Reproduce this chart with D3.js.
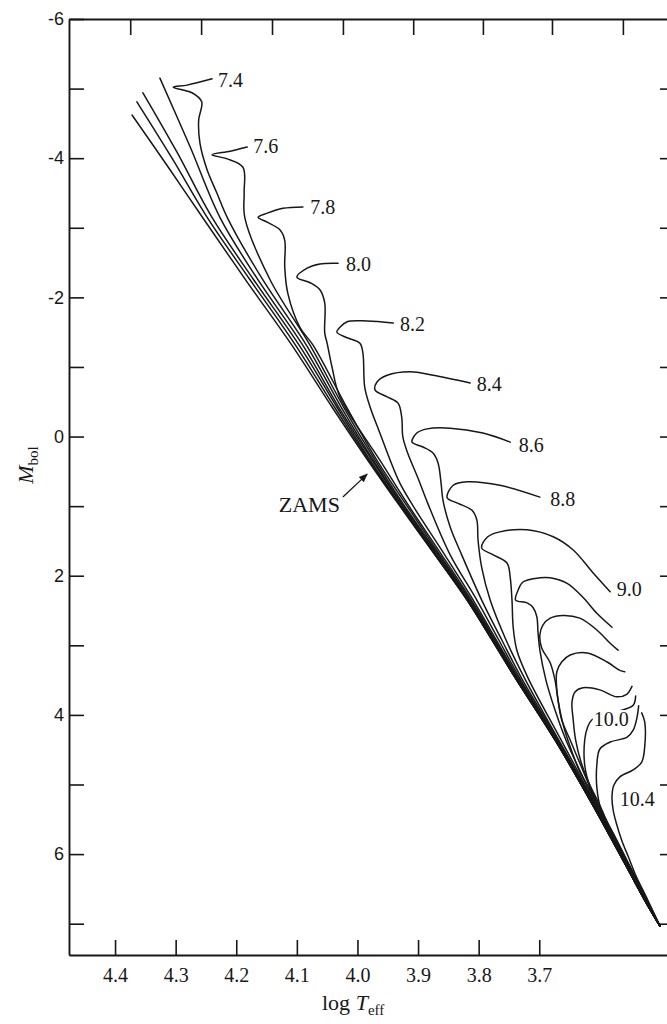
<!DOCTYPE html>
<html>
<head>
<meta charset="utf-8">
<script src="https://cdn.jsdelivr.net/npm/d3@7"></script>
<style>
  html, body { margin: 0; padding: 0; background: #fff; }
  svg { display: block; }
</style>
</head>
<body>
<svg id="chart" width="667" height="1024"></svg>
<script>
// Isochrones in the theoretical HR diagram: [log Teff, M_bol] pairs.
const zams = [[4.372,-4.62],[4.309,-3.83],[4.255,-3.14],[4.182,-2.22],[4.108,-1.31],[4.041,-0.41],[3.983,0.34],[3.930,1.00],[3.872,1.70],[3.819,2.35],[3.778,2.92],[3.740,3.46],[3.674,4.36],[3.610,5.32],[3.559,6.13],[3.526,6.66],[3.501,7.03]];

// Younger tracks whose turn-off lies above the plotted range
const youngTrack1 = [[4.364,-4.81],[4.306,-4.00],[4.248,-3.15],[4.177,-2.25],[4.102,-1.31],[4.037,-0.41],[3.981,0.34],[3.929,1.00],[3.872,1.70],[3.819,2.35],[3.778,2.92],[3.740,3.46],[3.674,4.36],[3.610,5.32],[3.559,6.13],[3.526,6.66],[3.501,7.03]];
const youngTrack2 = [[4.354,-4.94],[4.298,-4.09],[4.240,-3.15],[4.171,-2.25],[4.096,-1.31],[4.033,-0.41],[3.979,0.34],[3.928,1.00],[3.871,1.70],[3.819,2.35],[3.778,2.92],[3.740,3.46],[3.674,4.36],[3.610,5.32],[3.559,6.13],[3.526,6.66],[3.501,7.03]];
const youngTrack3 = [[4.326,-5.15],[4.276,-4.16],[4.227,-3.15],[4.164,-2.25],[4.090,-1.31],[4.030,-0.41],[3.976,0.34],[3.926,1.00],[3.870,1.70],[3.818,2.35],[3.777,2.92],[3.740,3.46],[3.674,4.36],[3.610,5.32],[3.559,6.13],[3.526,6.66],[3.501,7.03]];

// Labelled isochrones, listed from the red end through the hook and down the main sequence
const iso74 = [[4.240,-5.14],[4.281,-5.05],[4.304,-5.02],[4.273,-4.94],[4.257,-4.81],[4.262,-4.55],[4.260,-4.22],[4.248,-3.83],[4.232,-3.50],[4.215,-3.15],[4.156,-2.25],[4.084,-1.31],[4.026,-0.41],[3.974,0.34],[3.924,1.00],[3.868,1.70],[3.817,2.35],[3.776,2.92],[3.739,3.46],[3.673,4.36],[3.610,5.32],[3.559,6.13],[3.526,6.66],[3.501,7.03]];
const iso76 = [[4.182,-4.16],[4.210,-4.10],[4.240,-4.05],[4.215,-3.99],[4.189,-3.87],[4.187,-3.50],[4.186,-3.15],[4.144,-2.25],[4.078,-1.31],[4.022,-0.41],[3.971,0.34],[3.922,1.00],[3.866,1.70],[3.816,2.35],[3.776,2.92],[3.739,3.46],[3.673,4.36],[3.609,5.32],[3.559,6.13],[3.526,6.66],[3.501,7.03]];
const iso78 = [[4.090,-3.30],[4.123,-3.28],[4.149,-3.21],[4.164,-3.15],[4.149,-3.08],[4.128,-2.97],[4.120,-2.82],[4.120,-2.44],[4.115,-2.06],[4.095,-1.57],[4.073,-1.31],[4.017,-0.41],[3.968,0.34],[3.918,1.00],[3.864,1.70],[3.814,2.35],[3.775,2.92],[3.738,3.46],[3.673,4.36],[3.609,5.32],[3.558,6.13],[3.526,6.66],[3.501,7.03]];
const iso80 = [[4.032,-2.49],[4.062,-2.48],[4.083,-2.42],[4.100,-2.29],[4.078,-2.21],[4.062,-2.11],[4.054,-1.92],[4.054,-1.49],[4.050,-1.34],[4.042,-1.00],[4.029,-0.57],[3.963,0.34],[3.915,1.00],[3.861,1.70],[3.812,2.35],[3.773,2.92],[3.737,3.46],[3.672,4.36],[3.609,5.32],[3.558,6.13],[3.526,6.66],[3.501,7.03]];
const iso82 = [[3.941,-1.63],[3.984,-1.66],[4.017,-1.65],[4.029,-1.57],[4.034,-1.50],[4.017,-1.42],[3.996,-1.34],[3.991,-1.20],[3.988,-0.71],[3.979,-0.42],[3.963,-0.05],[3.946,0.34],[3.930,0.67],[3.908,1.00],[3.856,1.70],[3.809,2.35],[3.771,2.92],[3.735,3.46],[3.672,4.36],[3.608,5.32],[3.558,6.13],[3.525,6.66],[3.501,7.03]];
const iso84 = [[3.814,-0.77],[3.875,-0.88],[3.913,-0.93],[3.951,-0.88],[3.968,-0.78],[3.971,-0.67],[3.951,-0.57],[3.933,-0.48],[3.927,-0.28],[3.925,0.01],[3.917,0.24],[3.900,0.60],[3.884,0.96],[3.847,1.70],[3.803,2.35],[3.767,2.92],[3.733,3.46],[3.671,4.36],[3.608,5.32],[3.558,6.13],[3.525,6.66],[3.501,7.03]];
const iso86 = [[3.748,0.08],[3.793,-0.05],[3.847,-0.12],[3.885,-0.11],[3.902,-0.05],[3.910,0.08],[3.892,0.15],[3.875,0.24],[3.867,0.38],[3.862,0.67],[3.859,0.91],[3.847,1.30],[3.828,1.70],[3.795,2.35],[3.762,2.92],[3.730,3.46],[3.669,4.36],[3.607,5.32],[3.557,6.13],[3.525,6.66],[3.501,7.03]];
const iso88 = [[3.699,0.87],[3.765,0.70],[3.819,0.65],[3.842,0.70],[3.852,0.88],[3.834,0.96],[3.811,1.06],[3.803,1.20],[3.801,1.49],[3.795,1.88],[3.781,2.35],[3.755,2.92],[3.725,3.46],[3.668,4.36],[3.606,5.32],[3.557,6.13],[3.525,6.66],[3.501,7.03]];
const iso90 = [[3.583,2.23],[3.611,1.96],[3.644,1.63],[3.677,1.44],[3.720,1.34],[3.765,1.37],[3.785,1.44],[3.795,1.60],[3.776,1.70],[3.753,1.82],[3.748,2.02],[3.745,2.35],[3.743,2.74],[3.737,3.07],[3.719,3.46],[3.664,4.36],[3.605,5.32],[3.556,6.13],[3.524,6.66],[3.501,7.03]];
const iso92 = [[3.580,2.74],[3.605,2.54],[3.628,2.31],[3.654,2.11],[3.682,2.03],[3.699,2.03],[3.727,2.09],[3.735,2.21],[3.739,2.35],[3.720,2.39],[3.710,2.46],[3.704,2.59],[3.702,2.82],[3.699,3.07],[3.689,3.50],[3.674,3.93],[3.656,4.36],[3.604,5.32],[3.556,6.13],[3.524,6.66],[3.501,7.03]];
const iso94 = [[3.570,3.07],[3.583,2.97],[3.605,2.78],[3.633,2.61],[3.661,2.57],[3.682,2.61],[3.694,2.71],[3.699,2.85],[3.696,3.04],[3.682,3.25],[3.674,3.50],[3.669,3.79],[3.663,4.07],[3.649,4.36],[3.602,5.32],[3.555,6.13],[3.524,6.66],[3.501,7.03]];
const iso96 = [[3.559,3.38],[3.567,3.36],[3.588,3.24],[3.621,3.11],[3.649,3.14],[3.663,3.24],[3.671,3.38],[3.671,3.64],[3.666,3.93],[3.658,4.22],[3.646,4.53],[3.633,4.82],[3.616,5.08],[3.601,5.32],[3.554,6.13],[3.524,6.66],[3.501,7.03]];
const iso98 = [[3.547,3.59],[3.550,3.64],[3.555,3.70],[3.572,3.74],[3.600,3.64],[3.628,3.61],[3.641,3.67],[3.646,3.82],[3.644,4.07],[3.640,4.36],[3.631,4.68],[3.618,4.98],[3.600,5.30],[3.580,5.70],[3.554,6.13],[3.523,6.66],[3.501,7.03]];
const iso100 = [[3.541,3.73],[3.545,3.86],[3.575,3.96],[3.600,4.02],[3.613,4.07],[3.620,4.17],[3.625,4.36],[3.625,4.72],[3.616,5.04],[3.600,5.34],[3.578,5.70],[3.553,6.13],[3.523,6.66],[3.501,7.03]];
const iso102 = [[3.536,3.87],[3.539,4.05],[3.545,4.22],[3.555,4.32],[3.583,4.39],[3.600,4.49],[3.605,4.72],[3.605,5.04],[3.598,5.37],[3.580,5.73],[3.564,5.98],[3.549,6.20],[3.522,6.66],[3.501,7.03]];
const iso104 = [[3.531,3.97],[3.526,4.10],[3.526,4.46],[3.531,4.68],[3.545,4.79],[3.567,4.89],[3.577,5.01],[3.580,5.18],[3.578,5.37],[3.573,5.55],[3.564,5.80],[3.552,6.06],[3.541,6.30],[3.521,6.66],[3.501,7.03]];

// Age labels (log t) and where each one sits
const ageLabels = ["7.4","7.6","7.8","8.0","8.2","8.4","8.6","8.8","9.0","10.0","10.4"];
const ageLabelLogT = [4.230,4.172,4.078,4.019,3.930,3.803,3.734,3.682,3.572,3.610,3.567];
const ageLabelMbol = [-5.02,-4.07,-3.20,-2.38,-1.52,-0.65,0.22,1.00,2.29,4.16,5.31];

// ZAMS annotation: label anchor and arrow from/to
const zamsLabel = [4.029, 1.08];
const zamsArrow = [[4.024, 0.87], [3.984, 0.54]];

// Axis ticks
const bottomTicks = [4.4, 4.3, 4.2, 4.1, 4.0, 3.9, 3.8, 3.7];
const topTicks = [4.375, 4.258, 4.141, 4.024, 3.908, 3.793, 3.679, 3.562];
const leftTicks = [-6, -5, -4, -3, -2, -1, 0, 1, 2, 3, 4, 5, 6, 7];
const rightTicks = [-5, -4, -3, -2, -1, 0, 1, 2, 3, 4, 5, 6, 7];

const curves = [zams, youngTrack1, youngTrack2, youngTrack3,
  iso74, iso76, iso78, iso80, iso82, iso84, iso86, iso88, iso90,
  iso92, iso94, iso96, iso98, iso100, iso102, iso104];

const ink = "#171717";
const svg = d3.select("#chart");

const x = d3.scaleLinear().domain([4.476, 3.476]).range([69, 675]);
const y = d3.scaleLinear().domain([-6, 7.45]).range([19, 955]);

const serif = "'Liberation Serif', 'Times New Roman', serif";
const sans = "'Liberation Sans', Arial, sans-serif";

function styleAxis(g) {
  g.select(".domain").attr("stroke", ink).attr("stroke-width", 1.9);
  g.selectAll(".tick line").attr("stroke", ink).attr("stroke-width", 1.6);
  g.selectAll(".tick text").attr("fill", ink);
}

// Frame with inward ticks on all four sides
svg.append("g")
  .attr("transform", `translate(0,${y(7.45)})`)
  .call(d3.axisBottom(x).tickValues(bottomTicks).tickSize(-15).tickSizeOuter(0)
    .tickPadding(13).tickFormat(d3.format(".1f")))
  .call(styleAxis)
  .call(g => g.selectAll(".tick text").attr("font-family", serif).attr("font-size", 20));

svg.append("g")
  .attr("transform", `translate(0,${y(-6)})`)
  .call(d3.axisTop(x).tickValues(topTicks).tickSize(-16).tickSizeOuter(0).tickFormat(""))
  .call(styleAxis);

svg.append("g")
  .attr("transform", `translate(${x(4.476)},0)`)
  .call(d3.axisLeft(y).tickValues(leftTicks).tickSize(-15).tickSizeOuter(0)
    .tickPadding(5).tickFormat(d => (d % 2 === 0 ? String(d) : "")))
  .call(styleAxis)
  .call(g => g.selectAll(".tick text").attr("font-family", sans).attr("font-size", 18));

svg.append("g")
  .attr("transform", `translate(${x(3.476)},0)`)
  .call(d3.axisRight(y).tickValues(rightTicks).tickSize(-15).tickSizeOuter(0).tickFormat(""))
  .call(styleAxis);

// Isochrones
const line = d3.line()
  .x(d => x(d[0]))
  .y(d => y(d[1]))
  .curve(d3.curveCatmullRom.alpha(0.5));

svg.append("g")
  .selectAll("path")
  .data(curves)
  .join("path")
  .attr("d", line)
  .attr("fill", "none")
  .attr("stroke", ink)
  .attr("stroke-width", 1.5)
  .attr("stroke-linejoin", "round")
  .attr("stroke-linecap", "round");

// Age labels, each on a white ground so it masks the curve it sits on
const labels = svg.append("g")
  .selectAll("g")
  .data(ageLabels.map((t, i) => ({ t, lx: ageLabelLogT[i], ly: ageLabelMbol[i] })))
  .join("g")
  .attr("transform", d => `translate(${x(d.lx)},${y(d.ly)})`);

labels.append("text")
  .attr("font-family", serif)
  .attr("font-size", 20)
  .attr("fill", ink)
  .text(d => d.t);

labels.each(function () {
  const g = d3.select(this);
  const bb = g.select("text").node().getBBox();
  g.insert("rect", "text")
    .attr("x", bb.x - 1).attr("y", bb.y + 2)
    .attr("width", bb.width + 2).attr("height", bb.height - 4)
    .attr("fill", "#fff");
});

// ZAMS arrow and label
const defs = svg.append("defs");
defs.append("marker")
  .attr("id", "arrowhead")
  .attr("viewBox", "0 0 10 10")
  .attr("refX", 9).attr("refY", 5)
  .attr("markerWidth", 9).attr("markerHeight", 9)
  .attr("markerUnits", "userSpaceOnUse")
  .attr("orient", "auto")
  .append("path")
  .attr("d", "M0,1 L10,5 L0,9 Z")
  .attr("fill", ink);

svg.append("line")
  .attr("x1", x(zamsArrow[0][0])).attr("y1", y(zamsArrow[0][1]))
  .attr("x2", x(zamsArrow[1][0])).attr("y2", y(zamsArrow[1][1]))
  .attr("stroke", ink).attr("stroke-width", 1.3)
  .attr("marker-end", "url(#arrowhead)");

svg.append("text")
  .attr("x", x(zamsLabel[0])).attr("y", y(zamsLabel[1]))
  .attr("text-anchor", "end")
  .attr("font-family", serif)
  .attr("font-size", 22)
  .attr("fill", ink)
  .text("ZAMS");

// Axis titles
const xt = svg.append("text")
  .attr("x", 322).attr("y", 1010)
  .attr("font-family", serif).attr("font-size", 22).attr("fill", ink);
xt.append("tspan").text("log ");
xt.append("tspan").attr("font-style", "italic").text("T");
xt.append("tspan").attr("font-size", 15).attr("dy", 5).text("eff");

const yt = svg.append("text")
  .attr("transform", "translate(33,465) rotate(-90)")
  .attr("text-anchor", "middle")
  .attr("font-family", serif).attr("font-size", 22).attr("fill", ink);
yt.append("tspan").attr("font-style", "italic").text("M");
yt.append("tspan").attr("font-size", 15).attr("dy", 5).text("bol");
</script>
</body>
</html>
